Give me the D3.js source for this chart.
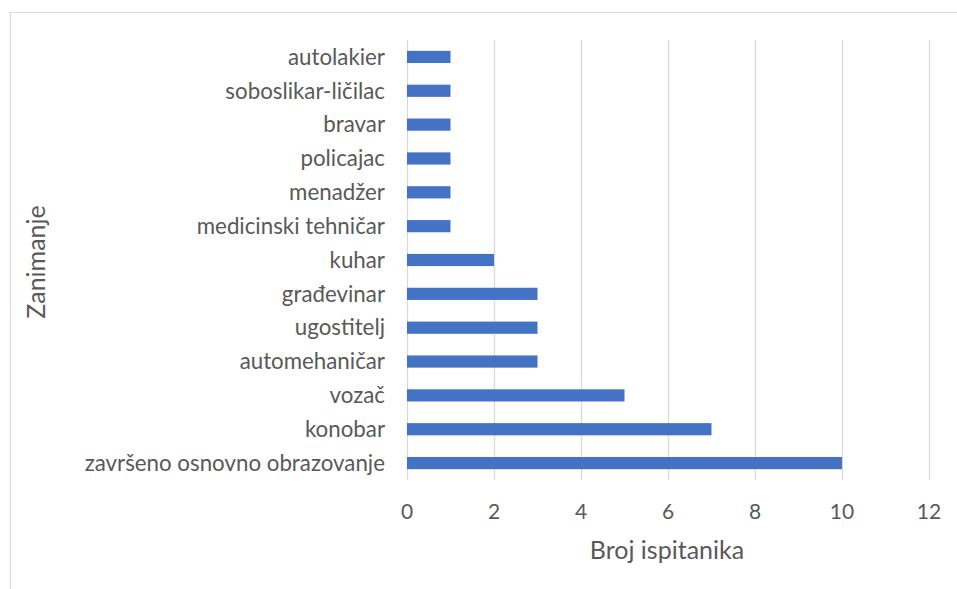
<!DOCTYPE html>
<html lang="hr">
<head>
<meta charset="utf-8">
<script src="https://d3js.org/d3.v7.min.js"></script>
<style>
  body { margin: 0; background: #fff; }
  text { font-family: Lato, "Open Sans", sans-serif; fill: #595959; }
</style>
</head>
<body>
<svg width="957" height="589"></svg>
<script>
// data, top to bottom as drawn
var categories = ["autolakier", "soboslikar-ličilac", "bravar", "policajac", "menadžer",
  "medicinski tehničar", "kuhar", "građevinar", "ugostitelj", "automehaničar",
  "vozač", "konobar", "završeno osnovno obrazovanje"];
var counts = [1, 1, 1, 1, 1, 1, 2, 3, 3, 3, 5, 7, 10];
var xTicks = [0, 2, 4, 6, 8, 10, 12];

var svg = d3.select("svg");

// chart border (runs off the right and bottom edge)
svg.append("rect")
  .attr("x", 10.5).attr("y", 12.5)
  .attr("width", 960).attr("height", 600)
  .attr("fill", "none").attr("stroke", "#d9d9d9");

var x = d3.scaleLinear().domain([0, 12]).range([407, 929]);
var y = d3.scaleBand().domain(categories).range([40, 480]).paddingInner(0.64).paddingOuter(0.32);

// gridlines
svg.append("g").selectAll("line")
  .data(xTicks)
  .enter().append("line")
    .attr("x1", d => Math.round(x(d)) + 0.5).attr("x2", d => Math.round(x(d)) + 0.5)
    .attr("y1", 40).attr("y2", 480)
    .attr("stroke", "#d9d9d9").attr("stroke-width", 1.3);

// bars
svg.append("g").selectAll("rect")
  .data(categories)
  .enter().append("rect")
    .attr("x", x(0))
    .attr("y", d => y(d))
    .attr("width", (d, i) => x(counts[i]) - x(0))
    .attr("height", y.bandwidth())
    .attr("fill", "#4472c4");

// x tick labels
svg.append("g").selectAll("text")
  .data(xTicks)
  .enter().append("text")
    .attr("x", d => x(d)).attr("y", 519)
    .attr("text-anchor", "middle")
    .style("font-size", "21px")
    .text(d => d);

// category labels
svg.append("g").selectAll("text")
  .data(categories)
  .enter().append("text")
    .attr("x", 385)
    .attr("y", d => y(d) + y.bandwidth() / 2)
    .attr("dy", "0.35em")
    .attr("text-anchor", "end")
    .style("font-size", "22.3px")
    .text(d => d);

// axis titles
svg.append("text")
  .attr("x", 667).attr("y", 559)
  .attr("text-anchor", "middle")
  .style("font-size", "25px")
  .text("Broj ispitanika");

svg.append("text")
  .attr("transform", "translate(45,262) rotate(-90)")
  .attr("text-anchor", "middle")
  .style("font-size", "25px")
  .text("Zanimanje");
</script>
</body>
</html>
